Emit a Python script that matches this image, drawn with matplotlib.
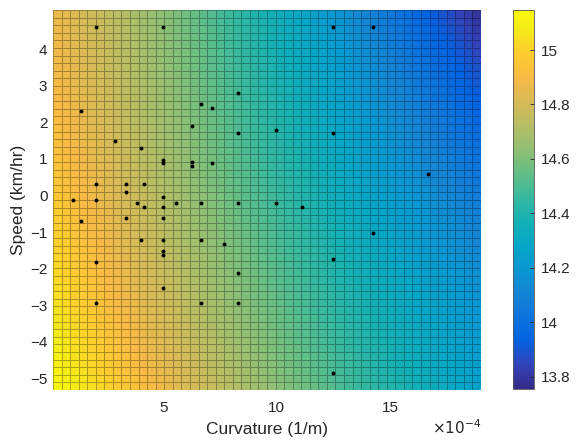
import numpy as np
import matplotlib.pyplot as plt
from matplotlib.colors import LinearSegmentedColormap
from matplotlib.ticker import FormatStrFormatter

# measured points: curvature (x1e-4 1/m) and speed (km/hr)
curv = [2.03, 5.00, 12.50, 14.26,
        8.31, 1.37, 6.66, 7.13, 6.25,
        8.31, 9.97, 12.50, 2.87, 4.00,
        5.00, 5.00, 6.25, 6.25, 7.13, 16.66,
        2.03, 3.34, 4.15, 3.34, 5.00,
        1.00, 2.03, 3.83, 5.55, 6.66, 8.31, 9.97,
        4.15, 5.00, 11.10, 3.34, 5.00, 1.37,
        14.26, 4.00, 5.00, 6.66, 7.68,
        5.00, 5.00, 12.50, 2.03, 8.31, 5.00,
        2.03, 6.66, 8.31, 12.50]
speed = [4.60, 4.60, 4.60, 4.60,
         2.80, 2.31, 2.50, 2.40, 1.90,
         1.70, 1.79, 1.70, 1.50, 1.29,
         0.97, 0.88, 0.91, 0.80, 0.89, 0.58,
         0.30, 0.30, 0.30, 0.09, -0.03,
         -0.12, -0.12, -0.20, -0.20, -0.20, -0.20, -0.20,
         -0.32, -0.32, -0.32, -0.61, -0.61, -0.70,
         -1.02, -1.22, -1.22, -1.22, -1.33,
         -1.52, -1.63, -1.73, -1.82, -2.13, -2.54,
         -2.93, -2.93, -2.93, -4.85]

# fitted surface z = sum c[i][j] * x^i * y^j (x in 1e-4 1/m)
surf_coef = [[14.980, -0.02553, 0.00102],
             [-0.05498, 0.000910, 0.000115],
             [0.000348, -0.000106, -0.0000146]]

x_lim = [0.134, 19.01]
y_lim = [-5.32, 5.07]
c_lim = [13.755, 15.147]
n_cells = 50

cb_ticks = [13.8, 14.0, 14.2, 14.4, 14.6, 14.8, 15.0]

parula_pts = [
    (0.2081, 0.1663, 0.5292), (0.1959, 0.2645, 0.7279), (0.0117, 0.3875, 0.8820),
    (0.0498, 0.4586, 0.8641), (0.0793, 0.5200, 0.8312), (0.0343, 0.5966, 0.8199),
    (0.0228, 0.6535, 0.7768), (0.0843, 0.6928, 0.7062), (0.2178, 0.7250, 0.6193),
    (0.3953, 0.7459, 0.5244), (0.5709, 0.7485, 0.4494), (0.7184, 0.7411, 0.3905),
    (0.8507, 0.7299, 0.3360), (0.9739, 0.7314, 0.2666), (0.9880, 0.8066, 0.1794),
    (0.9598, 0.9218, 0.0948), (0.9763, 0.9831, 0.0538)]
pos = [i / 63 for i in range(0, 61, 4)] + [1.0]
parula = LinearSegmentedColormap.from_list('parula', list(zip(pos, parula_pts)))

plt.rcParams['font.family'] = ['Liberation Sans', 'DejaVu Sans']
txt = '#262626'

fig = plt.figure(figsize=(5.76, 4.44), dpi=100)
ax = fig.add_axes([0.092, 0.1216, 0.743, 0.8559])
cax = fig.add_axes([0.8906, 0.1239, 0.0365, 0.8536])

xe = np.linspace(x_lim[0], x_lim[1], n_cells + 1)
ye = np.linspace(y_lim[0], y_lim[1], n_cells + 1)
xc = (xe[:-1] + xe[1:]) / 2
yc = (ye[:-1] + ye[1:]) / 2
XX, YY = np.meshgrid(xc, yc)
Z = np.polynomial.polynomial.polyval2d(XX, YY, np.array(surf_coef))

mesh = ax.pcolormesh(xe, ye, Z, cmap=parula, vmin=c_lim[0], vmax=c_lim[1],
                     edgecolors=(0, 0, 0, 0.3), linewidth=0.5)
ax.plot(curv, speed, 'o', color='k', markersize=2.8, markeredgewidth=0)

ax.set_xlim(x_lim)
ax.set_ylim(y_lim)
ax.set_xticks([5, 10, 15])
ax.set_yticks(range(-5, 5))
for s in ax.spines.values():
    s.set_visible(False)
ax.tick_params(length=0, labelsize=11, colors=txt)
ax.tick_params(axis='x', pad=8)
ax.tick_params(axis='y', pad=4)
ax.set_xlabel('Curvature (1/m)', fontsize=12.5, color=txt, labelpad=5)
ax.set_ylabel('Speed (km/hr)', fontsize=12.5, color=txt, labelpad=3)
ax.text(1.0, -0.098, r'$\times10^{-4}$', transform=ax.transAxes, ha='right',
        va='center', fontsize=11, color=txt, math_fontfamily='dejavusans')

cb = fig.colorbar(mesh, cax=cax, ticks=cb_ticks)
cb.ax.yaxis.set_major_formatter(FormatStrFormatter('%g'))
cb.ax.tick_params(direction='in', length=3, width=0.6, labelsize=11,
                  colors=txt, pad=5)
cb.outline.set_linewidth(0.6)
cb.outline.set_edgecolor('#555555')

fig.savefig('out.png', dpi=100)
